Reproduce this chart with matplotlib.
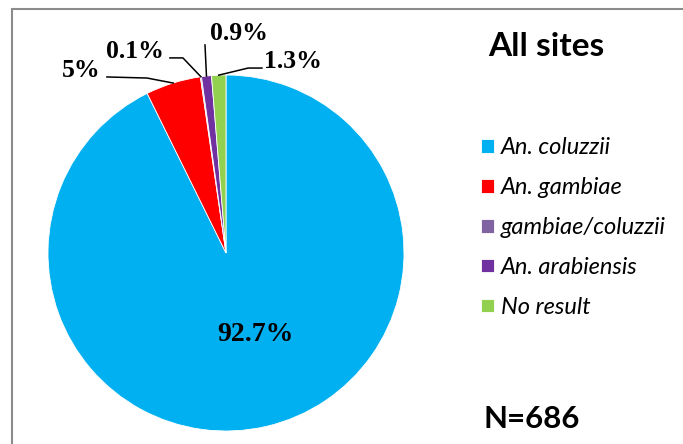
import numpy as np
import matplotlib
matplotlib.use('Agg')
import matplotlib.pyplot as plt
from matplotlib.patches import Rectangle

# data
species = ['An. coluzzii', 'An. gambiae', 'gambiae/coluzzii', 'An. arabiensis', 'No result']
percent = [92.7, 5.0, 0.1, 0.9, 1.3]
pct_labels = ['92.7%', '5%', '0.1%', '0.9%', '1.3%']
colors = ['#00B0F0', '#FF0000', '#8064A2', '#7030A0', '#92D050']
n_total = 686

W, H = 683, 444
fig = plt.figure(figsize=(W / 100, H / 100), dpi=100)

# grey frame (runs off right/bottom like the source crop)
fig.patches.append(Rectangle((11.5 / W, -0.1), 1.2, (H - 9.5) / H + 0.1,
                             transform=fig.transFigure, fill=False,
                             edgecolor='#8C8C8C', lw=1.5))

# pie axes: centre (226,253) px, radius 178 px
cx, cy, r = 226, 253, 178
ax = fig.add_axes([(cx - r) / W, (H - cy - r) / H, 2 * r / W, 2 * r / H])
wedges, _ = ax.pie(percent, colors=colors, startangle=90, counterclock=False,
                   radius=1, wedgeprops=dict(edgecolor='white', linewidth=0.6))
ax.set_xlim(-1, 1)
ax.set_ylim(-1, 1)
ax.set_aspect('equal')
ax.axis('off')

# label layout (data coords): text pos, elbow, line end
lab_font = dict(family=['Liberation Serif', 'DejaVu Serif'], weight='bold', fontsize=18.5)
layout = {
    1: dict(txt=(-0.815, 0.989), elbow=(-0.444, 0.983), end=(-0.669, 0.989)),
    2: dict(txt=(-0.511, 1.096), elbow=(-0.242, 1.096), end=(-0.315, 1.096)),
    3: dict(txt=(0.073, 1.197), elbow=None, end=(-0.118, 1.169)),
    4: dict(txt=(0.376, 1.039), elbow=(0.124, 1.039), end=(0.202, 1.039)),
}

# wedge mid angles
cum = np.cumsum([0] + percent[:-1])
mids = [90 - (c + p / 2) / 100 * 360 for c, p in zip(cum, percent)]

for i, lay in layout.items():
    a = np.deg2rad(mids[i])
    px, py = np.cos(a), np.sin(a)
    pts = [(px, py)]
    if lay['elbow'] is not None:
        pts.append(lay['elbow'])
    pts.append(lay['end'])
    xs, ys = zip(*pts)
    ax.plot(xs, ys, color='black', lw=1.1, clip_on=False)
    ax.text(lay['txt'][0], lay['txt'][1], pct_labels[i], ha='center', va='baseline',
            clip_on=False, **lab_font)

ax.text(0.163, -0.494, pct_labels[0], ha='center', va='baseline',
        family=['Liberation Serif', 'DejaVu Serif'], weight='bold', fontsize=20)

# title and N
fig.text(488 / W, 1 - 56 / H, 'All sites', fontsize=24, weight='bold',
         family=['Lato', 'DejaVu Sans'], ha='left', va='baseline')
fig.text(483 / W, 1 - 428 / H, 'N=%d' % n_total, fontsize=22.5, weight='bold',
         family=['Lato', 'DejaVu Sans'], ha='left', va='baseline')

leg = fig.legend(wedges, species, loc='upper left', bbox_to_anchor=(460 / W, 1 - 116 / H),
                 frameon=False, handlelength=0.52, handleheight=0.52, handletextpad=0.3,
                 labelspacing=0.8, prop=dict(family=['Lato', 'DejaVu Sans'],
                                            style='italic', size=17))

fig.savefig('out.png', dpi=100)
